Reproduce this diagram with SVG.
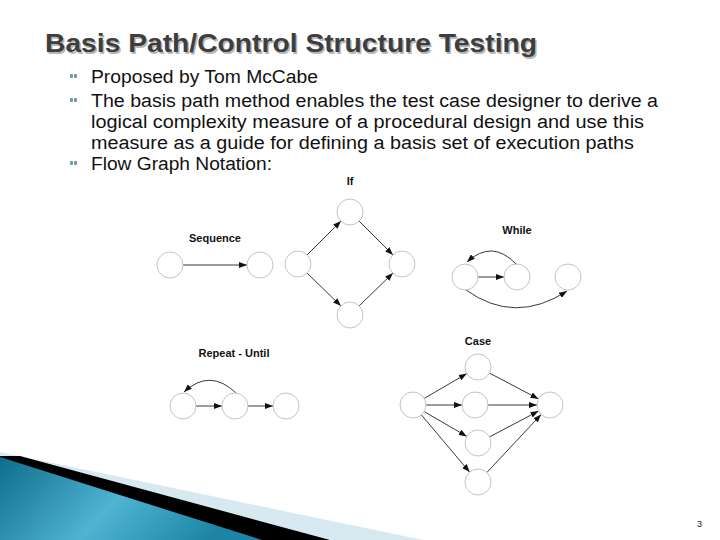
<svg xmlns="http://www.w3.org/2000/svg" width="720" height="540" viewBox="0 0 720 540">
<defs>
<style>
.node{fill:#fff;stroke:#c4c4c4;stroke-width:1}
.edge{fill:none;stroke:#222;stroke-width:0.9;marker-end:url(#ah)}
.lbl{font-family:"Liberation Sans",Arial,sans-serif;font-weight:bold;font-size:11px;fill:#111;text-anchor:middle}
.body{font-family:"Liberation Sans",Arial,sans-serif;font-size:18px;fill:#111}
.bul{fill:#6a9aa8}
</style>
<marker id="ah" markerWidth="8" markerHeight="6" refX="8" refY="3" orient="auto" markerUnits="userSpaceOnUse">
<path d="M0,0 L8,3 L0,6 z" fill="#111"/>
</marker>
<linearGradient id="teal" x1="0" y1="0" x2="1" y2="0.3">
<stop offset="0" stop-color="#0e6d8a"/>
<stop offset="0.55" stop-color="#4fb3d2"/>
<stop offset="1" stop-color="#1d86a6"/>
</linearGradient>
</defs>
<rect width="720" height="540" fill="#fff"/>
<g id="decoration">
<polygon points="0,452 423,540 0,540" fill="#d7e9f0"/>
<polygon points="20,456 330,540 0,540 0,456" fill="#000"/>
<polygon points="0,457 262,540 0,540" fill="url(#teal)"/>
</g>
<g id="title">
<text x="46.5" y="53.5" font-family="'Liberation Sans',Arial,sans-serif" font-weight="bold" font-size="26" fill="#b8b8b8" textLength="492" lengthAdjust="spacingAndGlyphs">Basis Path/Control Structure Testing</text>
<text x="45" y="52" font-family="'Liberation Sans',Arial,sans-serif" font-weight="bold" font-size="26" fill="#3e3e3e" textLength="492" lengthAdjust="spacingAndGlyphs">Basis Path/Control Structure Testing</text>
</g>
<g id="bullets">
<rect class="bul" x="70" y="74" width="3" height="4" rx="1"/><rect class="bul" x="74" y="74" width="3" height="4" rx="1"/>
<rect class="bul" x="70" y="98" width="3" height="4" rx="1"/><rect class="bul" x="74" y="98" width="3" height="4" rx="1"/>
<rect class="bul" x="70" y="161" width="3" height="4" rx="1"/><rect class="bul" x="74" y="161" width="3" height="4" rx="1"/>
<text class="body" x="91" y="83" textLength="227" lengthAdjust="spacingAndGlyphs">Proposed by Tom McCabe</text>
<text class="body" x="91" y="107" textLength="567" lengthAdjust="spacingAndGlyphs">The basis path method enables the test case designer to derive a</text>
<text class="body" x="91" y="128" textLength="553" lengthAdjust="spacingAndGlyphs">logical complexity measure of a procedural design and use this</text>
<text class="body" x="91" y="149" textLength="543" lengthAdjust="spacingAndGlyphs">measure as a guide for defining a basis set of execution paths</text>
<text class="body" x="91" y="170" textLength="181" lengthAdjust="spacingAndGlyphs">Flow Graph Notation:</text>
</g>
<g id="labels">
<text class="lbl" x="215" y="242">Sequence</text>
<text class="lbl" x="350" y="185">If</text>
<text class="lbl" x="517" y="234">While</text>
<text class="lbl" x="234" y="357">Repeat - Until</text>
<text class="lbl" x="478" y="345">Case</text>
</g>
<g id="connectors">
<line class="edge" x1="183" y1="265" x2="247" y2="265"/>
<line class="edge" x1="307" y1="255" x2="341" y2="221"/>
<line class="edge" x1="359" y1="221" x2="393" y2="255"/>
<line class="edge" x1="307" y1="273" x2="341" y2="306"/>
<line class="edge" x1="359" y1="306" x2="393" y2="273"/>
<line class="edge" x1="478" y1="277" x2="504" y2="277"/>
<path class="edge" d="M516,264 Q492,239 467,262"/>
<path class="edge" d="M466,290 Q515,325 567,291"/>
<line class="edge" x1="196" y1="406" x2="222" y2="406"/>
<line class="edge" x1="248" y1="406" x2="273" y2="406"/>
<path class="edge" d="M236,393 Q210,368 184,392"/>
<line class="edge" x1="424.2" y1="398.4" x2="466.8" y2="373.6"/>
<line class="edge" x1="426" y1="405" x2="462" y2="405"/>
<line class="edge" x1="424.2" y1="411.6" x2="466.8" y2="436.4"/>
<line class="edge" x1="421.4" y1="414.9" x2="469.6" y2="472.1"/>
<line class="edge" x1="489.5" y1="373.1" x2="538.5" y2="398.9"/>
<line class="edge" x1="488" y1="405" x2="537" y2="405"/>
<line class="edge" x1="489.5" y1="436.9" x2="538.5" y2="411.1"/>
<line class="edge" x1="486.9" y1="472.5" x2="541.1" y2="414.5"/>
</g>
<g id="seq-a"><circle class="node" cx="170" cy="265" r="13"/></g>
<g id="seq-b"><circle class="node" cx="260" cy="265" r="13"/></g>
<g id="if-a"><circle class="node" cx="298" cy="264" r="13"/></g>
<g id="if-top"><circle class="node" cx="350" cy="212" r="13"/></g>
<g id="if-bottom"><circle class="node" cx="350" cy="315" r="13"/></g>
<g id="if-join"><circle class="node" cx="402" cy="264" r="13"/></g>
<g id="while-a"><circle class="node" cx="465" cy="277" r="13"/></g>
<g id="while-b"><circle class="node" cx="517" cy="277" r="13"/></g>
<g id="while-c"><circle class="node" cx="568" cy="277" r="13"/></g>
<g id="rep-a"><circle class="node" cx="183" cy="406" r="13"/></g>
<g id="rep-b"><circle class="node" cx="235" cy="406" r="13"/></g>
<g id="rep-c"><circle class="node" cx="286" cy="406" r="13"/></g>
<g id="case-a"><circle class="node" cx="413" cy="405" r="13"/></g>
<g id="case-1"><circle class="node" cx="478" cy="367" r="13"/></g>
<g id="case-2"><circle class="node" cx="475" cy="405" r="13"/></g>
<g id="case-3"><circle class="node" cx="478" cy="443" r="13"/></g>
<g id="case-4"><circle class="node" cx="478" cy="482" r="13"/></g>
<g id="case-join"><circle class="node" cx="550" cy="405" r="13"/></g>
<g id="page"><text x="697" y="527" font-family="'Liberation Sans',Arial,sans-serif" font-size="9" fill="#222">3</text></g>
</svg>
